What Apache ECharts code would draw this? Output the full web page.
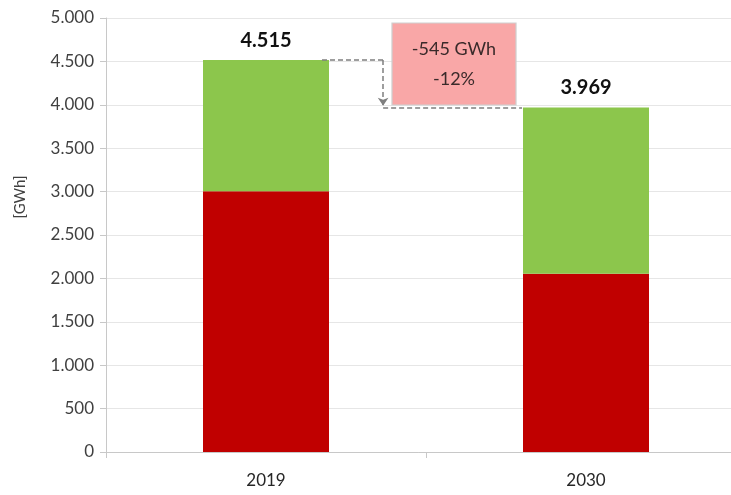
<!DOCTYPE html>
<html><head><meta charset="utf-8">
<script src="https://cdn.jsdelivr.net/npm/echarts@6/dist/echarts.min.js"></script>
<style>html,body{margin:0;padding:0;background:#fff}#c{width:731px;height:495px}</style>
</head><body><div id="c"></div>
<script>
var categories = ['2019', '2030'];
var redValues = [3005, 2055];
var greenValues = [1510, 1914];
var totals = [4515, 3969];
var yTicks = {min: 0, max: 5000, interval: 500};
var deltaText = ['-545 GWh', '-12%'];

function fmt(v) { return String(v).replace(/\B(?=(\d{3})+(?!\d))/g, '.'); }

var chart = echarts.init(document.getElementById('c'));
var FONT = 'Lato';
chart.setOption({
  animation: false,
  grid: {left: 106, top: 18, right: -15, bottom: 43, outerBoundsMode: 'none', containLabel: false},
  xAxis: [{
    type: 'category', data: categories,
    axisLine: {lineStyle: {color: '#c8c8c8'}},
    axisTick: {show: true, length: 6, lineStyle: {color: '#c8c8c8'}},
    axisLabel: {color: '#262626', fontSize: 17, fontFamily: FONT, margin: 20}
  }, {
    type: 'value', min: 0, max: 2, show: false
  }],
  yAxis: {
    type: 'value', min: yTicks.min, max: yTicks.max, interval: yTicks.interval,
    name: '[GWh]', nameLocation: 'middle', nameRotate: 90, nameGap: 78,
    nameTextStyle: {color: '#404040', fontSize: 15, fontFamily: FONT, padding: [0, 0, 0, 76]},
    axisLine: {show: true, lineStyle: {color: '#c8c8c8'}},
    axisTick: {show: true, length: 6, lineStyle: {color: '#c8c8c8'}},
    splitLine: {lineStyle: {color: '#e6e6e6'}},
    axisLabel: {color: '#404040', fontSize: 17, fontFamily: FONT, margin: 12, formatter: fmt}
  },
  series: [{
    type: 'bar', stack: 'a', data: redValues, barWidth: 126,
    itemStyle: {color: '#c00000'}
  }, {
    type: 'bar', stack: 'a', data: greenValues, barWidth: 126,
    itemStyle: {color: '#8cc64c'},
    label: {show: true, position: 'top', distance: 10, color: '#111', fontWeight: 'bold',
      fontSize: 20, fontFamily: FONT,
      formatter: function (p) { return fmt(totals[p.dataIndex]); }}
  }, {
    type: 'line', xAxisIndex: 1, data: [], silent: true,
    markLine: {
      silent: true, animation: false,
      lineStyle: {color: '#7f7f7f', type: [5, 3], width: 1.5},
      label: {show: false},
      data: [
        [{coord: [0.675, totals[0]], symbol: 'none'}, {coord: [0.866, totals[0]], symbol: 'none'}],
        [{coord: [0.866, totals[0]], symbol: 'none'}, {coord: [0.866, totals[1] + 20], symbol: 'arrow', symbolSize: [8, 8]}],
        [{coord: [0.866, totals[1]], symbol: 'none'}, {coord: [1.3, totals[1]], symbol: 'none'}]
      ]
    },
    markPoint: {
      silent: true, animation: false,
      data: [{coord: [1.0875, 4470], symbol: 'rect', symbolSize: [124, 82],
        itemStyle: {color: '#f9a7a7', borderColor: '#cfcfcf', borderWidth: 1},
        label: {show: true, position: 'inside', formatter: deltaText.join('\n'),
          color: '#3a2a2a', fontSize: 18, fontFamily: FONT, lineHeight: 30}}]
    }
  }]
});
</script></body></html>
